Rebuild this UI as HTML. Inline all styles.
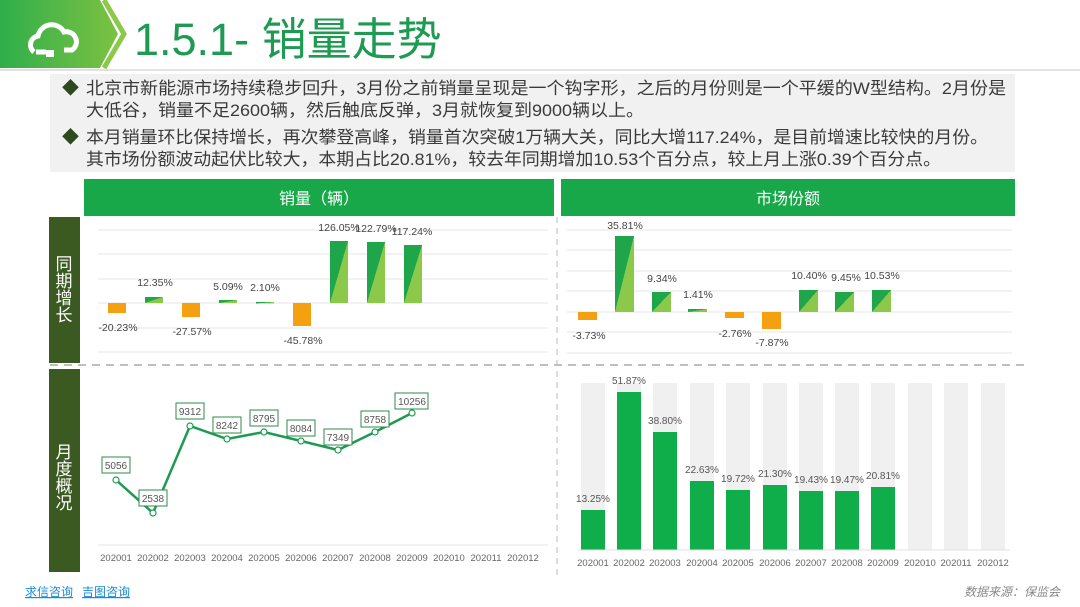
<!DOCTYPE html>
<html><head><meta charset="utf-8"><style>
html,body{margin:0;padding:0;background:#fff;}
svg{display:block;font-family:"Liberation Sans","Noto Sans CJK SC",sans-serif;}
</style></head><body>
<svg width="1080" height="607" viewBox="0 0 1080 607" xmlns="http://www.w3.org/2000/svg">
<defs>
<linearGradient id="hg" x1="0" y1="0" x2="1" y2="0"><stop offset="0" stop-color="#2fae4a"/><stop offset="1" stop-color="#7cc242"/></linearGradient>
<linearGradient id="gb" x1="0" y1="0" x2="1" y2="1"><stop offset="0.5" stop-color="#1fa64a"/><stop offset="0.5" stop-color="#8cc84a"/></linearGradient>
</defs>
<!-- header -->
<polygon points="0,0 100,0 118,34 100,68 0,68" fill="url(#hg)"/>
<polyline points="104,0 124,34 104,68" fill="none" stroke="#8cc84a" stroke-width="5"/>
<g fill="none" stroke="#fff" stroke-width="5" transform="translate(8,12)">
<path d="M26,40 a9,9 0 0 1 4,-16 a14,14 0 0 1 26,-4 a10,10 0 0 1 8,18 l-8,0"/>
<path d="M38,40 l-10,0"/>
</g>
<rect x="46" y="50" width="8" height="7" fill="#fff"/>
<text x="134" y="55" font-size="45" fill="#1e9a52">1.5.1- 销量走势</text>
<line x1="0" y1="70" x2="1080" y2="70" stroke="#e2e2e2" stroke-width="2"/>
<!-- text box -->
<rect x="50" y="74" width="965" height="98" fill="#f1f1f1"/>
<g font-size="17" fill="#3a3a3a">
<text x="62" y="94" fill="#2d4a1e">◆</text>
<text x="86" y="94" textLength="920" lengthAdjust="spacingAndGlyphs">北京市新能源市场持续稳步回升，3月份之前销量呈现是一个钩字形，之后的月份则是一个平缓的W型结构。2月份是</text>
<text x="86" y="116" textLength="558" lengthAdjust="spacingAndGlyphs">大低谷，销量不足2600辆，然后触底反弹，3月就恢复到9000辆以上。</text>
<text x="62" y="143" fill="#2d4a1e">◆</text>
<text x="86" y="143" textLength="902" lengthAdjust="spacingAndGlyphs">本月销量环比保持增长，再次攀登高峰，销量首次突破1万辆大关，同比大增117.24%，是目前增速比较快的月份。</text>
<text x="86" y="165" textLength="855" lengthAdjust="spacingAndGlyphs">其市场份额波动起伏比较大，本期占比20.81%，较去年同期增加10.53个百分点，较上月上涨0.39个百分点。</text>
</g>
<!-- green headers -->
<rect x="84" y="179" width="470" height="37" fill="#18a84a"/>
<rect x="561" y="179" width="454" height="37" fill="#18a84a"/>
<text x="319" y="204" font-size="16" fill="#fff" text-anchor="middle">销量（辆）</text>
<text x="788" y="204" font-size="16" fill="#fff" text-anchor="middle">市场份额</text>
<!-- side labels -->
<rect x="49" y="217" width="31" height="146" fill="#3b5a22"/>
<rect x="49" y="369" width="31" height="203" fill="#3b5a22"/>
<g font-size="17" fill="#fff" text-anchor="middle">
<text x="64" y="270">同</text><text x="64" y="287">期</text><text x="64" y="304">增</text><text x="64" y="321">长</text>
<text x="64" y="458">月</text><text x="64" y="475">度</text><text x="64" y="492">概</text><text x="64" y="509">况</text>
</g>
<line x1="50" y1="365" x2="1030" y2="365" stroke="#aaa" stroke-width="1.5" stroke-dasharray="8,6"/>
<line x1="557" y1="217" x2="557" y2="575" stroke="#bbb" stroke-width="1" stroke-dasharray="6,5"/>
<!-- left top gridlines -->
<g stroke="#e6e6e6" stroke-width="1">
<line x1="98" y1="230" x2="548" y2="230"/><line x1="98" y1="254" x2="548" y2="254"/><line x1="98" y1="279" x2="548" y2="279"/><line x1="98" y1="303" x2="548" y2="303"/><line x1="98" y1="328" x2="548" y2="328"/><line x1="98" y1="352" x2="548" y2="352"/>
</g>
<g>
<rect x="108" y="303" width="18" height="10" fill="#f5a011"/>
<rect x="145" y="297" width="18" height="6" fill="url(#gb)"/>
<rect x="182" y="303" width="18" height="14" fill="#f5a011"/>
<rect x="219" y="300" width="18" height="3" fill="url(#gb)"/>
<rect x="256" y="302" width="18" height="1.5" fill="url(#gb)"/>
<rect x="293" y="303" width="18" height="23" fill="#f5a011"/>
<rect x="330" y="241" width="18" height="62" fill="url(#gb)"/>
<rect x="367" y="242" width="18" height="61" fill="url(#gb)"/>
<rect x="404" y="245" width="18" height="58" fill="url(#gb)"/>
</g>
<g font-size="10.5" fill="#444" text-anchor="middle">
<text x="118" y="331">-20.23%</text><text x="155" y="286">12.35%</text><text x="192" y="335">-27.57%</text>
<text x="228" y="290">5.09%</text><text x="265" y="291">2.10%</text><text x="303" y="344">-45.78%</text>
<text x="339" y="231">126.05%</text><text x="376" y="232">122.79%</text><text x="412" y="235">117.24%</text>
</g>
<!-- line chart -->
<line x1="98" y1="545" x2="548" y2="545" stroke="#e6e6e6"/>
<polyline points="116,480 153,513 190,426 227,439 264,432 301,441 338,450 375,432 412,413" fill="none" stroke="#1e9a52" stroke-width="2.5"/>
<g fill="#fff" stroke="#1e9a52" stroke-width="1.2">
<circle cx="116" cy="480" r="3"/><circle cx="153" cy="513" r="3"/><circle cx="190" cy="426" r="3"/><circle cx="227" cy="439" r="3"/><circle cx="264" cy="432" r="3"/><circle cx="301" cy="441" r="3"/><circle cx="338" cy="450" r="3"/><circle cx="375" cy="432" r="3"/><circle cx="412" cy="413" r="3"/>
</g>
<g fill="#fff" stroke="#2e8a4a" stroke-width="1">
<rect x="102" y="457" width="28" height="16"/><rect x="139" y="490" width="28" height="16"/><rect x="176" y="403" width="28" height="16"/><rect x="213" y="417" width="28" height="16"/><rect x="250" y="410" width="28" height="16"/><rect x="287" y="420" width="28" height="16"/><rect x="324" y="429" width="28" height="16"/><rect x="361" y="411" width="28" height="16"/><rect x="395" y="393" width="33" height="16"/>
</g>
<g font-size="10" fill="#555" text-anchor="middle">
<text x="116" y="469">5056</text><text x="153" y="502">2538</text><text x="190" y="415">9312</text><text x="227" y="429">8242</text><text x="264" y="422">8795</text><text x="301" y="432">8084</text><text x="338" y="441">7349</text><text x="375" y="423">8758</text><text x="412" y="405">10256</text>
</g>
<g font-size="9.5" fill="#666" text-anchor="middle">
<text x="116" y="561">202001</text><text x="153" y="561">202002</text><text x="190" y="561">202003</text><text x="227" y="561">202004</text><text x="264" y="561">202005</text><text x="301" y="561">202006</text><text x="338" y="561">202007</text><text x="375" y="561">202008</text><text x="412" y="561">202009</text><text x="449" y="561">202010</text><text x="486" y="561">202011</text><text x="523" y="561">202012</text>
</g>
<!-- right top -->
<g stroke="#e6e6e6" stroke-width="1">
<line x1="567" y1="230" x2="1012" y2="230"/><line x1="567" y1="250" x2="1012" y2="250"/><line x1="567" y1="271" x2="1012" y2="271"/><line x1="567" y1="291" x2="1012" y2="291"/><line x1="567" y1="312" x2="1012" y2="312"/><line x1="567" y1="332" x2="1012" y2="332"/><line x1="567" y1="353" x2="1012" y2="353"/>
</g>
<g>
<rect x="578" y="312" width="19" height="8" fill="#f5a011"/>
<rect x="615" y="236" width="19" height="76" fill="url(#gb)"/>
<rect x="652" y="292" width="19" height="20" fill="url(#gb)"/>
<rect x="688" y="309" width="19" height="3" fill="url(#gb)"/>
<rect x="725" y="312" width="19" height="6" fill="#f5a011"/>
<rect x="762" y="312" width="19" height="17" fill="#f5a011"/>
<rect x="799" y="290" width="19" height="22" fill="url(#gb)"/>
<rect x="835" y="292" width="19" height="20" fill="url(#gb)"/>
<rect x="872" y="290" width="19" height="22" fill="url(#gb)"/>
</g>
<g font-size="10.5" fill="#444" text-anchor="middle">
<text x="589" y="339">-3.73%</text><text x="625" y="229">35.81%</text><text x="662" y="282">9.34%</text><text x="698" y="298">1.41%</text>
<text x="735" y="337">-2.76%</text><text x="772" y="346">-7.87%</text><text x="809" y="279">10.40%</text><text x="846" y="281">9.45%</text><text x="882" y="279">10.53%</text>
</g>
<!-- right bottom -->
<g fill="#f0f0f0">
<rect x="581" y="383" width="24" height="167"/><rect x="617" y="383" width="24" height="167"/><rect x="653" y="383" width="24" height="167"/><rect x="690" y="383" width="24" height="167"/><rect x="726" y="383" width="24" height="167"/><rect x="763" y="383" width="24" height="167"/><rect x="799" y="383" width="24" height="167"/><rect x="835" y="383" width="24" height="167"/><rect x="871" y="383" width="24" height="167"/><rect x="908" y="383" width="24" height="167"/><rect x="944" y="383" width="24" height="167"/><rect x="981" y="383" width="24" height="167"/>
</g>
<g fill="#0fae4a">
<rect x="581" y="510" width="24" height="40"/><rect x="617" y="392" width="24" height="158"/><rect x="653" y="432" width="24" height="118"/><rect x="690" y="481" width="24" height="69"/><rect x="726" y="490" width="24" height="60"/><rect x="763" y="485" width="24" height="65"/><rect x="799" y="491" width="24" height="59"/><rect x="835" y="491" width="24" height="59"/><rect x="871" y="487" width="24" height="63"/>
</g>
<line x1="578" y1="550" x2="1010" y2="550" stroke="#e0e0e0"/>
<g font-size="10" fill="#555" text-anchor="middle">
<text x="593" y="502">13.25%</text><text x="629" y="384">51.87%</text><text x="665" y="424">38.80%</text><text x="702" y="473">22.63%</text><text x="738" y="482">19.72%</text><text x="775" y="477">21.30%</text><text x="811" y="483">19.43%</text><text x="847" y="483">19.47%</text><text x="883" y="479">20.81%</text>
</g>
<g font-size="9.5" fill="#666" text-anchor="middle">
<text x="593" y="566">202001</text><text x="629" y="566">202002</text><text x="665" y="566">202003</text><text x="702" y="566">202004</text><text x="738" y="566">202005</text><text x="775" y="566">202006</text><text x="811" y="566">202007</text><text x="847" y="566">202008</text><text x="883" y="566">202009</text><text x="920" y="566">202010</text><text x="956" y="566">202011</text><text x="993" y="566">202012</text>
</g>
<!-- footer -->
<text x="25" y="596" font-size="12" fill="#1a8ad4" text-decoration="underline">求信咨询</text>
<text x="82" y="596" font-size="12" fill="#1a8ad4" text-decoration="underline">吉图咨询</text>
<text x="1060" y="596" font-size="12" fill="#888" font-style="italic" text-anchor="end">数据来源：保监会</text>
</svg>
</body></html>
